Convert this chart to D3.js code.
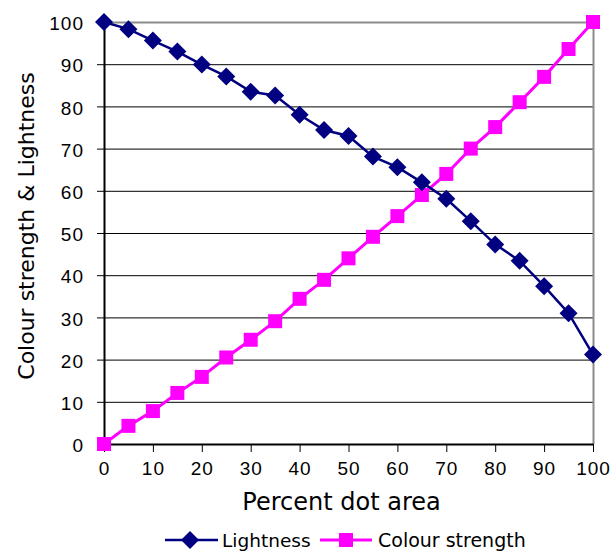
<!DOCTYPE html>
<html><head><meta charset="utf-8">
<script src="https://cdn.jsdelivr.net/npm/d3@7"></script>
<style>body{margin:0;background:#fff}</style>
</head><body>
<svg id="c" width="616" height="551"></svg>
<script>
const dotArea = [0,5,10,15,20,25,30,35,40,45,50,55,60,65,70,75,80,85,90,95,100];
const lightness = [100,98.3,95.6,93.0,89.9,87.1,83.5,82.6,78.0,74.4,73.0,68.1,65.6,62.0,58.1,52.8,47.3,43.4,37.4,31.0,21.2];
const colourStrength = [0,4.3,7.8,12.1,15.9,20.5,24.7,29.1,34.4,38.9,44.0,49.1,54.0,59.0,64.0,70.0,75.1,81.0,87.0,93.6,100];
const xTicks = [0,10,20,30,40,50,60,70,80,90,100];
const yTicks = [0,10,20,30,40,50,60,70,80,90,100];

const svg = d3.select("#c");
const L = 104, R = 593, T = 22, B = 444;
const x = d3.scaleLinear().domain([0,100]).range([L,R]);
const y = d3.scaleLinear().domain([0,100]).range([B,T]);

// gridlines
svg.append("g").selectAll("line").data(yTicks.filter(d=>d>0 && d<100)).join("line")
  .attr("x1",L).attr("x2",R).attr("y1",d=>y(d)+0.5).attr("y2",d=>y(d)+0.5)
  .attr("stroke","#000").attr("stroke-width",1);
// top/right border
svg.append("line").attr("x1",L).attr("x2",R).attr("y1",T+0.5).attr("y2",T+0.5).attr("stroke","#8c8c8c").attr("stroke-width",2);
svg.append("line").attr("x1",R+0.5).attr("x2",R+0.5).attr("y1",T).attr("y2",B).attr("stroke","#8c8c8c").attr("stroke-width",2);

// axes
const xAxis = d3.axisBottom(x).tickValues(xTicks).tickSize(8).tickPadding(10).tickSizeOuter(0);
const yAxis = d3.axisLeft(y).tickValues(yTicks).tickSize(7).tickPadding(13).tickSizeOuter(0);
const gx = svg.append("g").attr("transform",`translate(0,${B})`).call(xAxis);
const gy = svg.append("g").attr("transform",`translate(${L},0)`).call(yAxis);
[gx,gy].forEach(g=>{
  g.attr("font-size",null).attr("font-family",null);
  g.select(".domain").attr("stroke","#000").attr("stroke-width",2);
  g.selectAll(".tick line").attr("stroke","#000");
  g.selectAll(".tick text").style("font-family","'Liberation Sans', Arial, sans-serif")
    .style("font-size","19px").style("letter-spacing","1px").attr("fill","#000");
});
gy.selectAll(".tick text").attr("dy","0.4em");

// series
const line = d3.line().x((d,i)=>x(dotArea[i])).y(d=>y(d));
svg.append("path").datum(colourStrength).attr("d",line).attr("fill","none").attr("stroke","#ff00ff").attr("stroke-width",3);
svg.append("path").datum(lightness).attr("d",line).attr("fill","none").attr("stroke","#000080").attr("stroke-width",2.5);

const sq = 14;
svg.append("g").selectAll("rect").data(colourStrength).join("rect")
  .attr("x",(d,i)=>x(dotArea[i])-sq/2).attr("y",d=>y(d)-sq/2).attr("width",sq).attr("height",sq).attr("fill","#ff00ff");
const dm = 9;
svg.append("g").selectAll("path").data(lightness).join("path")
  .attr("d",(d,i)=>{const cx=x(dotArea[i]),cy=y(d);return `M${cx},${cy-dm}L${cx+dm},${cy}L${cx},${cy+dm}L${cx-dm},${cy}Z`;})
  .attr("fill","#000080");

// titles
const tf = "'DejaVu Sans', 'Noto Sans', sans-serif";
svg.append("text").attr("x",(L+R)/2-7).attr("y",510).attr("text-anchor","middle")
  .style("font-family",tf).style("font-size","24px").attr("fill","#000").text("Percent dot area");
svg.append("text").attr("transform","translate(34,226) rotate(-90)").attr("text-anchor","middle")
  .style("font-family",tf).style("font-size","22px").attr("fill","#000").text("Colour strength & Lightness");

// legend
const lg = svg.append("g");
lg.append("line").attr("x1",165).attr("x2",218).attr("y1",540).attr("y2",540).attr("stroke","#000080").attr("stroke-width",2.5);
lg.append("path").attr("d",`M190,${540-dm}L${190+dm},540L190,${540+dm}L${190-dm},540Z`).attr("fill","#000080");
lg.append("text").attr("x",222).attr("y",547).style("font-family",tf).style("font-size","18.5px").attr("fill","#000").text("Lightness");
lg.append("line").attr("x1",320).attr("x2",372).attr("y1",540).attr("y2",540).attr("stroke","#ff00ff").attr("stroke-width",3);
lg.append("rect").attr("x",346-sq/2).attr("y",540-sq/2).attr("width",sq).attr("height",sq).attr("fill","#ff00ff");
lg.append("text").attr("x",378).attr("y",547).style("font-family",tf).style("font-size","19px").attr("fill","#000").text("Colour strength");
</script>
</body></html>
